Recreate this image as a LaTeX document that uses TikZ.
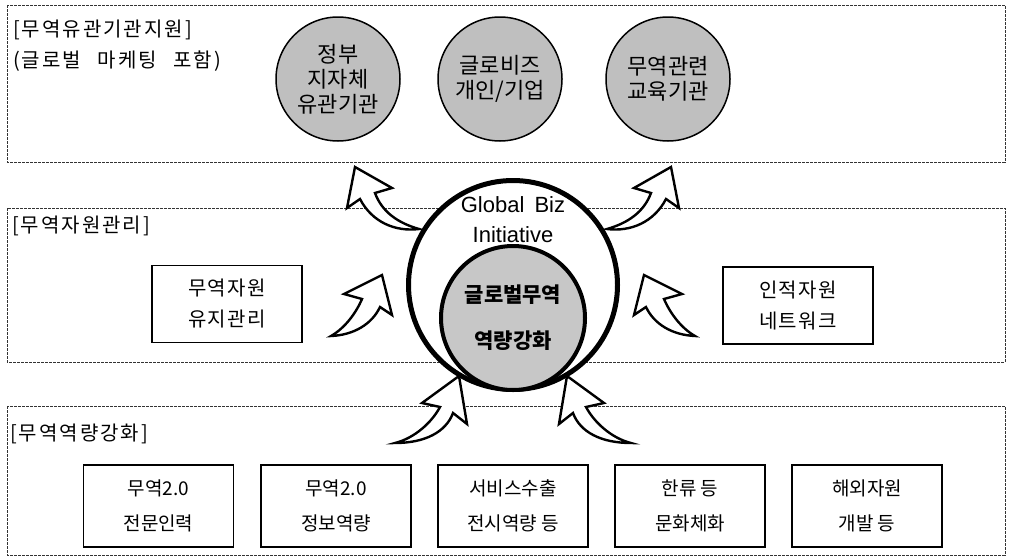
\documentclass[tikz,border=0pt]{standalone}
\usepackage{fontspec}
\setmainfont{Liberation Sans}
\newfontfamily\kr{Noto Sans CJK KR}
\newfontfamily\krsp[LetterSpace=10]{Noto Sans CJK KR}
\newfontfamily\krmid[LetterSpace=6]{Noto Sans CJK KR}
\begin{document}
\begin{tikzpicture}[x=1pt,y=-1pt,
  panel/.style={draw=black!80, line width=0.8pt, dash pattern=on 3pt off 1pt},
  lbl/.style={anchor=west, inner sep=0pt, font=\krsp\fontsize{20}{24}\selectfont},
  topcirc/.style={circle, draw, line width=1.5pt, fill=black!25, minimum size=124pt, inner sep=0pt, align=center, font=\kr\fontsize{22}{25}\selectfont},
  midbox/.style={draw, line width=1.8pt, minimum width=150pt, minimum height=77pt, inner sep=0pt, align=center, font=\krmid\fontsize{20}{31}\selectfont},
  botbox/.style={draw, line width=1.5pt, minimum width=150pt, minimum height=82pt, inner sep=0pt, align=center, font=\kr\fontsize{19}{35}\selectfont},
  arr/.style={draw, line width=2.4pt, fill=white, line join=miter}
]
\useasboundingbox (0,0) rectangle (1012,557);

% panels
\draw[panel] (7,5) rectangle (1005,162);
\draw[panel] (7,208) rectangle (1005,362);
\draw[panel] (7,406) rectangle (1005,555);

% panel labels
\node[lbl] (lab1) at (13,30) {[무역유관기관지원]};
\node[lbl] (lab1b) at (13,61) {(글로벌\hspace{10pt} 마케팅\hspace{10pt} 포함)};
\node[lbl] (lab2) at (12,226) {[무역자원관리]};
\node[lbl] (lab3) at (10,434) {[무역역량강화]};

% top circles
\node[topcirc] (c1) at (338,79) {정부\\지자체\\유관기관};
\node[topcirc] (c2) at (500,79) {글로비즈\\개인/기업};
\node[topcirc] (c3) at (668,79) {무역관련\\교육기관};

% middle boxes
\node[midbox] (m1) at (227,304) {무역자원\\유지관리};
\node[midbox] (m2) at (798,305.5) {인적자원\\네트워크};

% bottom boxes
\node[botbox] (b1) at (158.5,506) {무역2.0\\전문인력};
\node[botbox] (b2) at (336,506) {무역2.0\\정보역량};
\node[botbox] (b3) at (513,506) {서비스수출\\전시역량 등};
\node[botbox] (b4) at (690,506) {한류 등\\문화체화};
\node[botbox] (b5) at (867,506) {해외자원\\개발 등};

% curved block arrows (left ones, then mirrored copies)
\newcommand{\arrowset}{%
  % upper
  \draw[arr] (419,229) .. controls (395,232) and (372,222) .. (360,199)
     -- (347,208) -- (355,167) -- (392,188) -- (375,193)
     .. controls (382,212) and (398,223) .. (419,229) -- cycle;
  % middle
  \draw[arr] (331,336) .. controls (345,328) and (356,313) .. (362,299)
     -- (344,294) -- (382,275) -- (392,315) -- (380,307)
     .. controls (372,324) and (354,335) .. (331,336) -- cycle;
  % bottom
  \draw[arr] (395,443) .. controls (415,438) and (432,422) .. (440,407)
     -- (422,403) -- (459,376) -- (467,424) -- (453,413)
     .. controls (446,432) and (425,443) .. (395,443) -- cycle;
}
\arrowset
\begin{scope}[xshift=1026pt, xscale=-1]
\arrowset
\end{scope}

% central circles
\node[circle, draw, line width=5pt, fill=white, minimum size=209pt, inner sep=0pt] (outer) at (513,285) {};
\node[circle, draw, line width=4pt, fill=black!22, minimum size=144pt, inner sep=0pt,
      align=center, font=\kr\bfseries\fontsize{21}{46}\selectfont] (inner) at (513,318) {글로벌무역\\역량강화};
\node[align=center, inner sep=0pt, font=\fontsize{22}{30}\selectfont] (gbi) at (513,220) {Global\hspace{4pt} Biz\\Initiative};
\end{tikzpicture}
\end{document}
